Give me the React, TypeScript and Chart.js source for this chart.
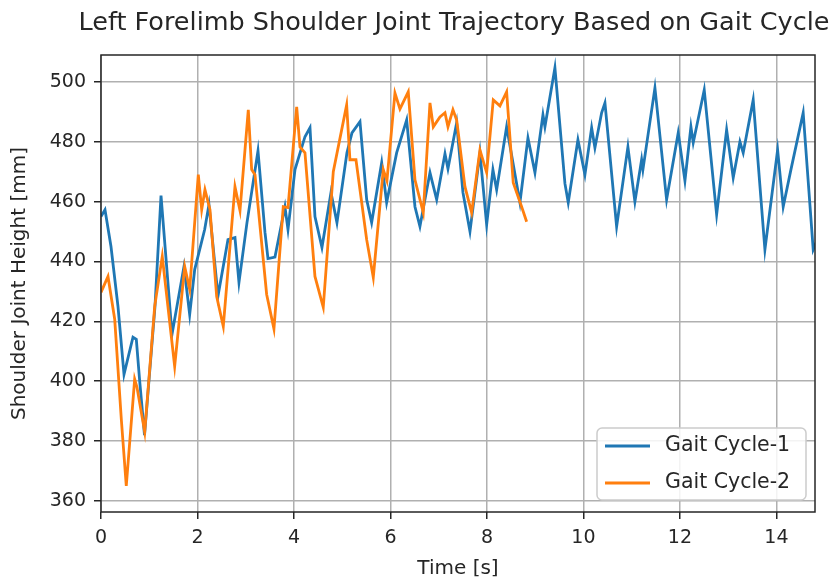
import { useEffect, useRef } from 'react';
import { Chart, registerables } from 'chart.js';

Chart.register(...registerables);

const TITLE = 'Left Forelimb Shoulder Joint Trajectory Based on Gait Cycle';
const X_TITLE = 'Time [s]';
const Y_TITLE = 'Shoulder Joint Height [mm]';
const SERIES_NAMES = ['Gait Cycle-1', 'Gait Cycle-2'];
const X_TICKS = [0, 2, 4, 6, 8, 10, 12, 14];
const Y_TICKS = [360, 380, 400, 420, 440, 460, 480, 500];

const cycle1Time = [0, 0.083, 0.207, 0.352, 0.477, 0.663, 0.732, 0.802, 0.902, 1.119, 1.244, 1.472, 1.72, 1.838, 1.942, 2.149, 2.238, 2.425, 2.632, 2.777, 2.86, 3.026, 3.254, 3.399, 3.461, 3.606, 3.813, 3.876, 4.021, 4.228, 4.332, 4.435, 4.58, 4.767, 4.891, 5.098, 5.202, 5.368, 5.507, 5.61, 5.818, 5.921, 6.128, 6.336, 6.508, 6.611, 6.819, 6.958, 7.13, 7.192, 7.372, 7.503, 7.648, 7.855, 7.994, 8.124, 8.201, 8.408, 8.684, 8.85, 8.995, 9.161, 9.202, 9.409, 9.617, 9.685, 9.886, 10.031, 10.17, 10.238, 10.377, 10.446, 10.688, 10.922, 11.067, 11.206, 11.233, 11.482, 11.724, 11.965, 12.104, 12.228, 12.276, 12.504, 12.761, 12.968, 13.105, 13.244, 13.312, 13.519, 13.762, 14.025, 14.141, 14.301, 14.555, 14.763, 14.833];
const cycle1Height = [455, 457.3, 445, 425, 402.3, 414.7, 414, 400, 382, 425, 462, 415.7, 438.3, 422.3, 437.3, 450.7, 459, 428.5, 447.3, 448, 433, 453, 477, 449.7, 441, 441.5, 458.3, 450.7, 470.7, 481.7, 484.7, 455, 444.7, 463, 453, 476.3, 483, 486.7, 460.7, 453, 473, 459.7, 476.3, 487.3, 458.3, 451.7, 469.7, 460.7, 476, 471, 486.3, 463, 450, 476.3, 452.3, 470.7, 464, 485, 459.7, 481.3, 469.7, 489, 485, 504.7, 466, 459.7, 480.7, 469, 484.7, 478, 489.7, 493, 451.7, 478.3, 460, 474, 470.7, 498, 460.7, 483, 467, 485, 479.7, 497.3, 455.7, 484, 468, 480, 476.3, 494, 444, 477.3, 458.3, 470.7, 489.7, 444, 446.7];

const cycle2Time = [0, 0.145, 0.284, 0.421, 0.524, 0.698, 0.746, 0.906, 1.113, 1.27, 1.527, 1.735, 1.838, 2.017, 2.087, 2.155, 2.259, 2.398, 2.535, 2.777, 2.881, 3.053, 3.123, 3.192, 3.434, 3.585, 3.778, 3.876, 4.056, 4.124, 4.228, 4.435, 4.607, 4.815, 5.092, 5.16, 5.285, 5.507, 5.644, 5.851, 5.927, 6.093, 6.197, 6.369, 6.508, 6.68, 6.819, 6.888, 7.026, 7.13, 7.192, 7.295, 7.372, 7.544, 7.683, 7.855, 7.994, 8.131, 8.269, 8.408, 8.545, 8.719, 8.823];
const cycle2Height = [429.7, 435, 420.7, 387.3, 365, 400.7, 398, 383, 425, 441.7, 405, 438.3, 430.7, 469, 457.3, 464, 457.3, 428.3, 418.3, 465, 457, 490.7, 470.7, 469, 429, 417.5, 458.3, 458, 491.7, 478.3, 476.3, 435, 424.7, 470, 492.3, 474, 474, 447.3, 434.7, 470.7, 467, 496.3, 491, 496.7, 467.3, 456.3, 493, 485, 488.3, 489.7, 485, 490.7, 487.3, 465, 456.3, 477.3, 469.7, 494, 492, 496.7, 466.3, 458.3, 453.3];

const COLORS = ['#1f77b4', '#ff7f0e'];
const FONT = "'DejaVu Sans', sans-serif";
const TEXT = '#262626';

const decorPlugin = {
  id: 'decor',
  afterDatasetsDraw(chart: any) {
    const { ctx, chartArea } = chart;
    const { left, right, top, bottom } = chartArea;
    ctx.save();
    // legend
    const bx = right - 218, by = bottom - 84, bw = 209, bh = 72;
    ctx.beginPath();
    ctx.roundRect(bx, by, bw, bh, 5);
    ctx.fillStyle = 'rgba(255,255,255,0.85)';
    ctx.fill();
    ctx.strokeStyle = '#cccccc';
    ctx.lineWidth = 1.5;
    ctx.stroke();
    SERIES_NAMES.forEach((name, i) => {
      const y = by + 18 + i * 37;
      ctx.beginPath();
      ctx.moveTo(bx + 8, y);
      ctx.lineTo(bx + 53, y);
      ctx.strokeStyle = COLORS[i];
      ctx.lineWidth = 2.8;
      ctx.stroke();
      ctx.fillStyle = TEXT;
      ctx.font = `20.5px ${FONT}`;
      ctx.textBaseline = 'middle';
      ctx.textAlign = 'left';
      ctx.fillText(name, bx + 68, y);
    });
    // frame
    ctx.strokeStyle = TEXT;
    ctx.lineWidth = 1.5;
    ctx.strokeRect(left, top, right - left, bottom - top);
    // title
    ctx.fillStyle = TEXT;
    ctx.font = `25.5px ${FONT}`;
    ctx.textAlign = 'center';
    ctx.textBaseline = 'middle';
    ctx.fillText(TITLE, (left + right) / 2 - 4, 23);
    ctx.restore();
  },
};

export default function App() {
  const ref = useRef<HTMLCanvasElement>(null);
  useEffect(() => {
    document.body.style.margin = '0';
    const chart = new Chart(ref.current!, {
      type: 'line',
      data: {
        datasets: [
          {
            label: SERIES_NAMES[0],
            data: cycle1Time.map((t, i) => ({ x: t, y: cycle1Height[i] })),
            borderColor: COLORS[0],
            borderWidth: 2.8,
            pointRadius: 0,
            tension: 0,
            order: 1,
          },
          {
            label: SERIES_NAMES[1],
            data: cycle2Time.map((t, i) => ({ x: t, y: cycle2Height[i] })),
            borderColor: COLORS[1],
            borderWidth: 2.8,
            pointRadius: 0,
            tension: 0,
            order: 0,
          },
        ],
      },
      options: {
        responsive: false,
        animation: false,
        layout: { padding: { left: 0, right: 23, top: 55, bottom: 0 } },
        plugins: { legend: { display: false }, tooltip: { enabled: false }, title: { display: false } },
        scales: {
          x: {
            type: 'linear',
            min: 0,
            max: 14.8,
            afterBuildTicks: (s: any) => { s.ticks = X_TICKS.map((v) => ({ value: v })); },
            afterFit: (s: any) => { s.height = 73; },
            grid: { color: '#b0b0b0', lineWidth: 1.5, tickColor: TEXT, tickLength: 7 },
            border: { display: false },
            ticks: { color: TEXT, font: { family: FONT, size: 19 }, padding: 8, maxRotation: 0 },
            title: { display: true, text: X_TITLE, color: TEXT, font: { family: FONT, size: 20 }, padding: { top: 0, bottom: 4 } },
          },
          y: {
            type: 'linear',
            min: 356.3,
            max: 509,
            afterBuildTicks: (s: any) => { s.ticks = Y_TICKS.map((v) => ({ value: v })); },
            afterFit: (s: any) => { s.width = 101; },
            grid: { color: '#b0b0b0', lineWidth: 1.5, tickColor: TEXT, tickLength: 7 },
            border: { display: false },
            ticks: { color: TEXT, font: { family: FONT, size: 19 }, padding: 8 },
            title: { display: true, text: Y_TITLE, color: TEXT, font: { family: FONT, size: 20 }, padding: { top: 8, bottom: 0 } },
          },
        },
      },
      plugins: [decorPlugin],
    } as any);
    return () => chart.destroy();
  }, []);
  return (
    <div style={{ width: 838, height: 585, background: '#fff' }}>
      <canvas ref={ref} width={838} height={585} style={{ display: 'block' }} />
    </div>
  );
}
